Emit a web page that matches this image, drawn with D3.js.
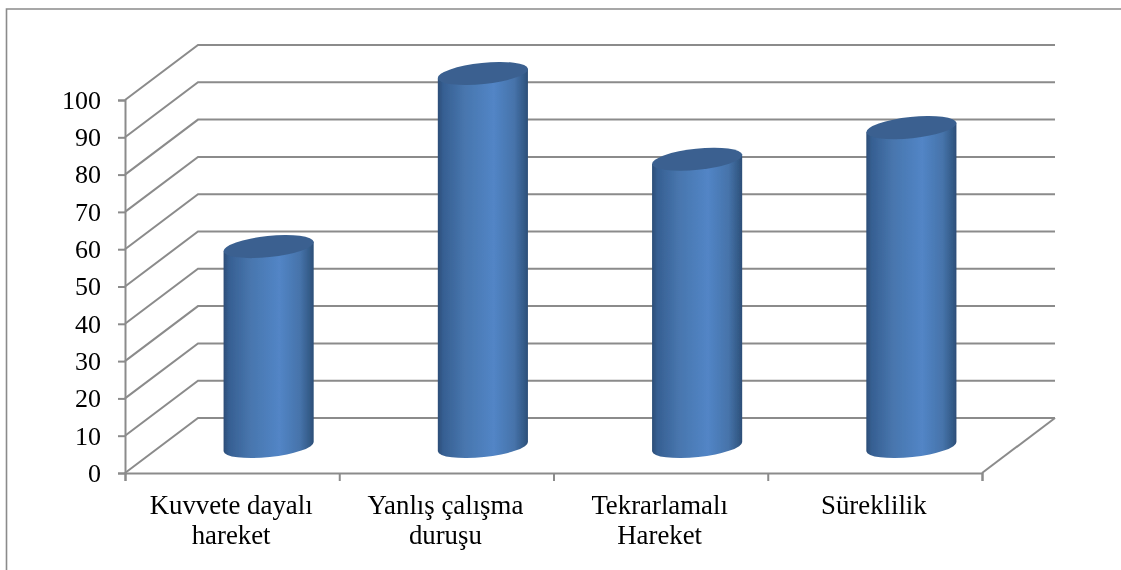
<!DOCTYPE html>
<html><head><meta charset="utf-8">
<style>html,body{margin:0;padding:0;background:#fff}svg{display:block}</style>
<script src="https://cdn.jsdelivr.net/npm/d3@7"></script></head>
<body><svg id="c" width="1121" height="570"></svg>
<script>
const categories = [["Kuvvete dayalı","hareket"],["Yanlış çalışma","duruşu"],["Tekrarlamalı","Hareket"],["Süreklilik"]];
const values = [53.6, 100, 77, 85.5];
const yTicks = [0,10,20,30,40,50,60,70,80,90,100];

const W=1121,H=570, gridColor="#8b8b8b", font="'Liberation Serif','Times New Roman',serif";
const dx=73, dy=-55;
const svg=d3.select("#c");
const defs=svg.append("defs");
const grad=defs.append("linearGradient").attr("id","body").attr("x1",0).attr("x2",1).attr("y1",0).attr("y2",0);
[[0,"#2c4d77"],[0.06,"#365f92"],[0.3,"#4876ae"],[0.62,"#5285c6"],[0.85,"#4673aa"],[0.96,"#335a87"],[1,"#2c4d77"]]
 .forEach(([o,c])=>grad.append("stop").attr("offset",o).attr("stop-color",c));
const soft=defs.append("filter").attr("id","soft").attr("x","-5%").attr("y","-5%").attr("width","110%").attr("height","110%");
soft.append("feGaussianBlur").attr("stdDeviation",0.5);

const y=d3.scaleLinear().domain([0,100]).range([473,100]);
const x=d3.scaleBand().domain(d3.range(categories.length)).range([125,982]);
const [x0,x1]=x.range();

const root=svg.append("g").attr("filter","url(#soft)");
// frame
root.append("path").attr("d",`M6.5,${H}V9H${W}`).attr("fill","none").attr("stroke",gridColor).attr("stroke-width",1.6);

// side wall and back wall gridlines
const grid=root.append("g").attr("fill","none").attr("stroke",gridColor).attr("stroke-width",2);
yTicks.forEach(t=>{
  grid.append("path").attr("d",`M${x0},${y(t)}L${x0+dx},${y(t)+dy}H${x1+dx}`);
});
// floor right edge
grid.append("path").attr("d",`M${x1},${y(0)}L${x1+dx},${y(0)+dy}`);

// axes
const axisY=root.append("g").attr("transform",`translate(${x0},0)`)
  .call(d3.axisLeft(y).tickValues(yTicks).tickSize(7).tickPadding(17).tickFormat(d3.format("d")));
const axisX=root.append("g").attr("transform",`translate(0,${y(0)})`)
  .call(d3.axisBottom(d3.scaleLinear().domain([0,categories.length]).range(x.range())).ticks(categories.length).tickSize(8).tickFormat(""));
root.selectAll(".domain").attr("stroke",gridColor).attr("stroke-width",2);
root.selectAll(".tick line").attr("stroke",gridColor).attr("stroke-width",2);
axisY.selectAll("text").attr("font-family",font).attr("font-size",26).attr("fill","#000");

// cylinders
const rx=45.3, ry=10.6, rot=-6, ang=rot*Math.PI/180;
const ox=dx/2, oy=-26.5;
const bars=root.append("g");
values.forEach((v,i)=>{
  const cx=x(i)+x.bandwidth()/2+ox;
  const yT=y(v)+oy, yB=y(0)+oy;
  const ex=rx*Math.cos(ang), ey=rx*Math.sin(ang);
  bars.append("path")
    .attr("d",`M${cx-ex},${yT-ey}L${cx-ex},${yB-ey}A${rx},${ry} ${rot} 0 0 ${cx+ex},${yB+ey}L${cx+ex},${yT+ey}Z`)
    .attr("fill","url(#body)");
  bars.append("ellipse").attr("cx",0).attr("cy",0).attr("rx",rx).attr("ry",ry)
    .attr("transform",`translate(${cx},${yT}) rotate(${rot})`).attr("fill","#3b6190");
});

// category labels
const labels=root.append("g").attr("font-family",font).attr("font-size",26.8).attr("fill","#000").attr("text-anchor","middle");
categories.forEach((lines,i)=>{
  lines.forEach((s,j)=>labels.append("text").attr("x",x(i)+x.bandwidth()/2-1).attr("y",513.5+j*30).text(s));
});
</script></body></html>
